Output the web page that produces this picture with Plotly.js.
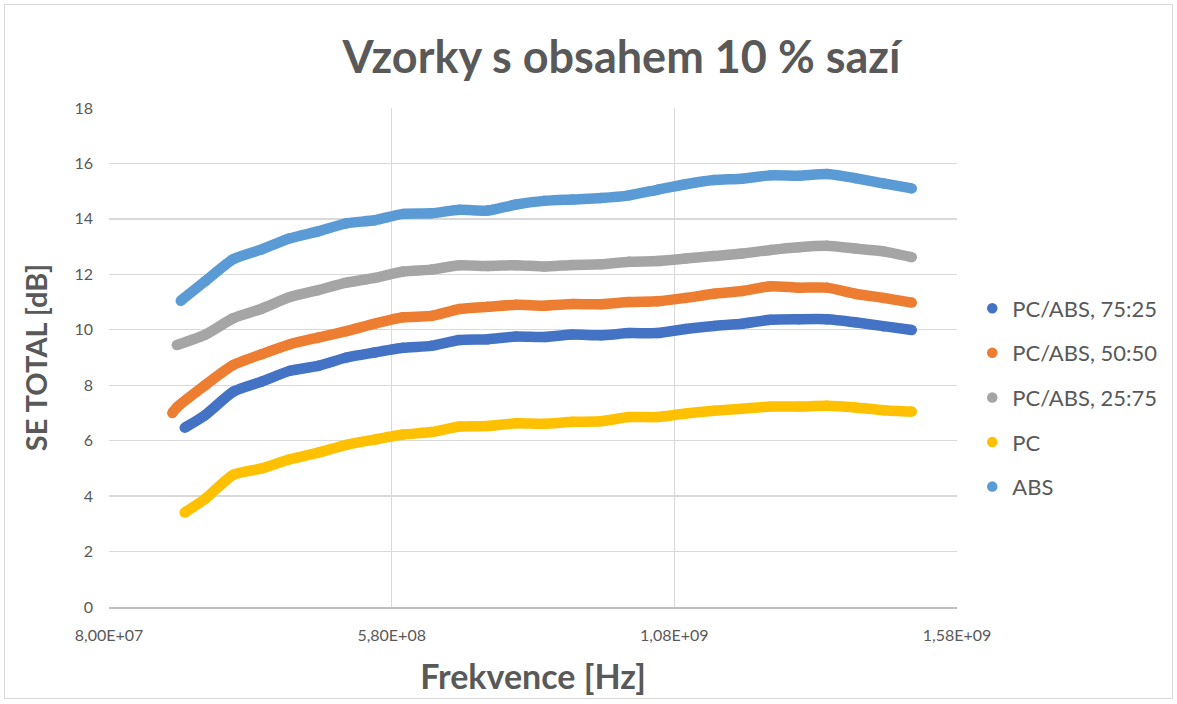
<!DOCTYPE html>
<html>
<head>
<meta charset="utf-8">
<script src="https://cdn.plot.ly/plotly-3.0.1.min.js"></script>
<style>
  html, body { margin: 0; padding: 0; background: #ffffff; }
  #wrap { position: relative; width: 1177px; height: 704px; }
  #chart { position: absolute; left: 0; top: 0; width: 1177px; height: 704px; }
  #frame { position: absolute; left: 4px; top: 4px; width: 1167px; height: 693px; border: 1px solid #D9D9D9; pointer-events: none; }
</style>
</head>
<body>
<div id="wrap"><div id="chart"></div><div id="frame"></div></div>
<script>
// Frequencies in MHz (converted to Hz below)
const freqBlue   = [214, 250, 300, 350, 400, 450, 500, 550, 600, 650, 700, 750, 800, 850, 900, 950, 1000, 1050, 1100, 1150, 1200, 1250, 1300, 1350, 1400, 1450, 1500];
const seBlue     = [6.47, 6.92, 7.77, 8.13, 8.52, 8.70, 9.00, 9.18, 9.35, 9.42, 9.63, 9.66, 9.76, 9.74, 9.83, 9.80, 9.88, 9.88, 10.03, 10.14, 10.22, 10.36, 10.38, 10.38, 10.27, 10.13, 9.99];

const freqOrange = [192, 200, 250, 300, 350, 400, 450, 500, 550, 600, 650, 700, 750, 800, 850, 900, 950, 1000, 1050, 1100, 1150, 1200, 1250, 1300, 1350, 1400, 1450, 1500];
const seOrange   = [7.00, 7.20, 8.00, 8.73, 9.12, 9.48, 9.72, 9.95, 10.22, 10.45, 10.50, 10.75, 10.83, 10.90, 10.87, 10.93, 10.92, 11.00, 11.03, 11.15, 11.30, 11.40, 11.57, 11.52, 11.52, 11.30, 11.15, 10.98];

const freqGray   = [200, 250, 300, 350, 400, 450, 500, 550, 600, 650, 700, 750, 800, 850, 900, 950, 1000, 1050, 1100, 1150, 1200, 1250, 1300, 1350, 1400, 1450, 1500];
const seGray     = [9.45, 9.82, 10.42, 10.76, 11.18, 11.43, 11.70, 11.87, 12.10, 12.17, 12.33, 12.30, 12.33, 12.28, 12.34, 12.36, 12.45, 12.48, 12.57, 12.66, 12.75, 12.88, 12.98, 13.03, 12.93, 12.83, 12.62];

const freqPC     = [214, 250, 300, 350, 400, 450, 500, 550, 600, 650, 700, 750, 800, 850, 900, 950, 1000, 1050, 1100, 1150, 1200, 1250, 1300, 1350, 1400, 1450, 1500];
const sePC       = [3.41, 3.90, 4.77, 5.00, 5.33, 5.57, 5.85, 6.04, 6.22, 6.31, 6.51, 6.53, 6.63, 6.61, 6.68, 6.70, 6.85, 6.85, 6.98, 7.08, 7.15, 7.23, 7.23, 7.26, 7.20, 7.10, 7.05];

const freqABS    = [207, 250, 300, 350, 400, 450, 500, 550, 600, 650, 700, 750, 800, 850, 900, 950, 1000, 1050, 1100, 1150, 1200, 1250, 1300, 1350, 1400, 1450, 1500];
const seABS      = [11.05, 11.75, 12.55, 12.90, 13.30, 13.55, 13.84, 13.95, 14.18, 14.20, 14.33, 14.30, 14.52, 14.65, 14.70, 14.75, 14.85, 15.05, 15.25, 15.40, 15.45, 15.57, 15.56, 15.62, 15.47, 15.28, 15.10];

const seriesNames = ['PC/ABS, 75:25', 'PC/ABS, 50:50', 'PC/ABS, 25:75', 'PC', 'ABS'];
const xTickVals = [8.0e7, 5.8e8, 1.08e9, 1.58e9];
const xTickText = ['8,00E+07', '5,80E+08', '1,08E+09', '1,58E+09'];
const yTickVals = [0, 2, 4, 6, 8, 10, 12, 14, 16, 18];

const seriesX = [freqBlue, freqOrange, freqGray, freqPC, freqABS];
const seriesY = [seBlue, seOrange, seGray, sePC, seABS];
const colors = ['#4472C4', '#ED7D31', '#A5A5A5', '#FFC000', '#5B9BD5'];

const toHz = arr => arr.map(v => v * 1e6);
const traces = [];
for (let i = 0; i < seriesNames.length; i++) {
  traces.push({
    type: 'scatter', mode: 'lines', x: toHz(seriesX[i]), y: seriesY[i],
    line: { color: colors[i], width: 10.5, shape: 'spline', smoothing: 0.6 },
    showlegend: false, legendgroup: 'g' + i, hoverinfo: 'skip'
  });
  traces.push({
    type: 'scatter', mode: 'markers', x: toHz(seriesX[i]), y: seriesY[i],
    name: seriesNames[i], legendgroup: 'g' + i,
    marker: { color: colors[i], size: 10.5 }
  });
}

const txt = '#595959';
const layout = {
  width: 1177, height: 704,
  paper_bgcolor: 'rgba(0,0,0,0)', plot_bgcolor: '#ffffff',
  margin: { l: 109, r: 220, t: 108, b: 97 },
  font: { family: 'Lato, "Open Sans", sans-serif', color: txt },
  title: {
    text: '<b>Vzorky s obsahem 10 % sazí</b>',
    font: { size: 45, color: txt, family: 'Lato, sans-serif' },
    x: 0.528, xanchor: 'center', y: 0.918, yanchor: 'middle'
  },
  xaxis: {
    range: [8.0e7, 1.58e9], tickvals: xTickVals, ticktext: xTickText,
    showgrid: true, gridcolor: '#D9D9D9', gridwidth: 1.3,
    zeroline: false, showline: true, linecolor: '#BFBFBF', linewidth: 1.5,
    ticks: '', ticklabelstandoff: 13,
    tickfont: { size: 16, color: txt, family: 'Lato, sans-serif' },
    title: { text: '<b>Frekvence [Hz]</b>', font: { size: 34, color: txt, family: 'Lato, sans-serif' }, standoff: 22 },
    automargin: false
  },
  yaxis: {
    range: [0, 18], tickvals: yTickVals,
    showgrid: true, gridcolor: '#D9D9D9', gridwidth: 1.3,
    zeroline: false, showline: false,
    ticks: '', ticklabelstandoff: 15,
    tickfont: { size: 16, color: txt, family: 'Lato, sans-serif' },
    title: { text: '<b>SE TOTAL [dB]</b>', font: { size: 29, color: txt, family: 'Lato, sans-serif' }, standoff: 18 },
    automargin: false
  },
  legend: {
    x: 1.018, xanchor: 'left', y: 0.42, yanchor: 'middle',
    font: { size: 22, color: txt, family: 'Lato, sans-serif' },
    tracegroupgap: 13, itemsizing: 'trace', bgcolor: 'rgba(0,0,0,0)'
  },
  showlegend: true
};

Plotly.newPlot('chart', traces, layout, { displayModeBar: false, staticPlot: true });
</script>
</body>
</html>
